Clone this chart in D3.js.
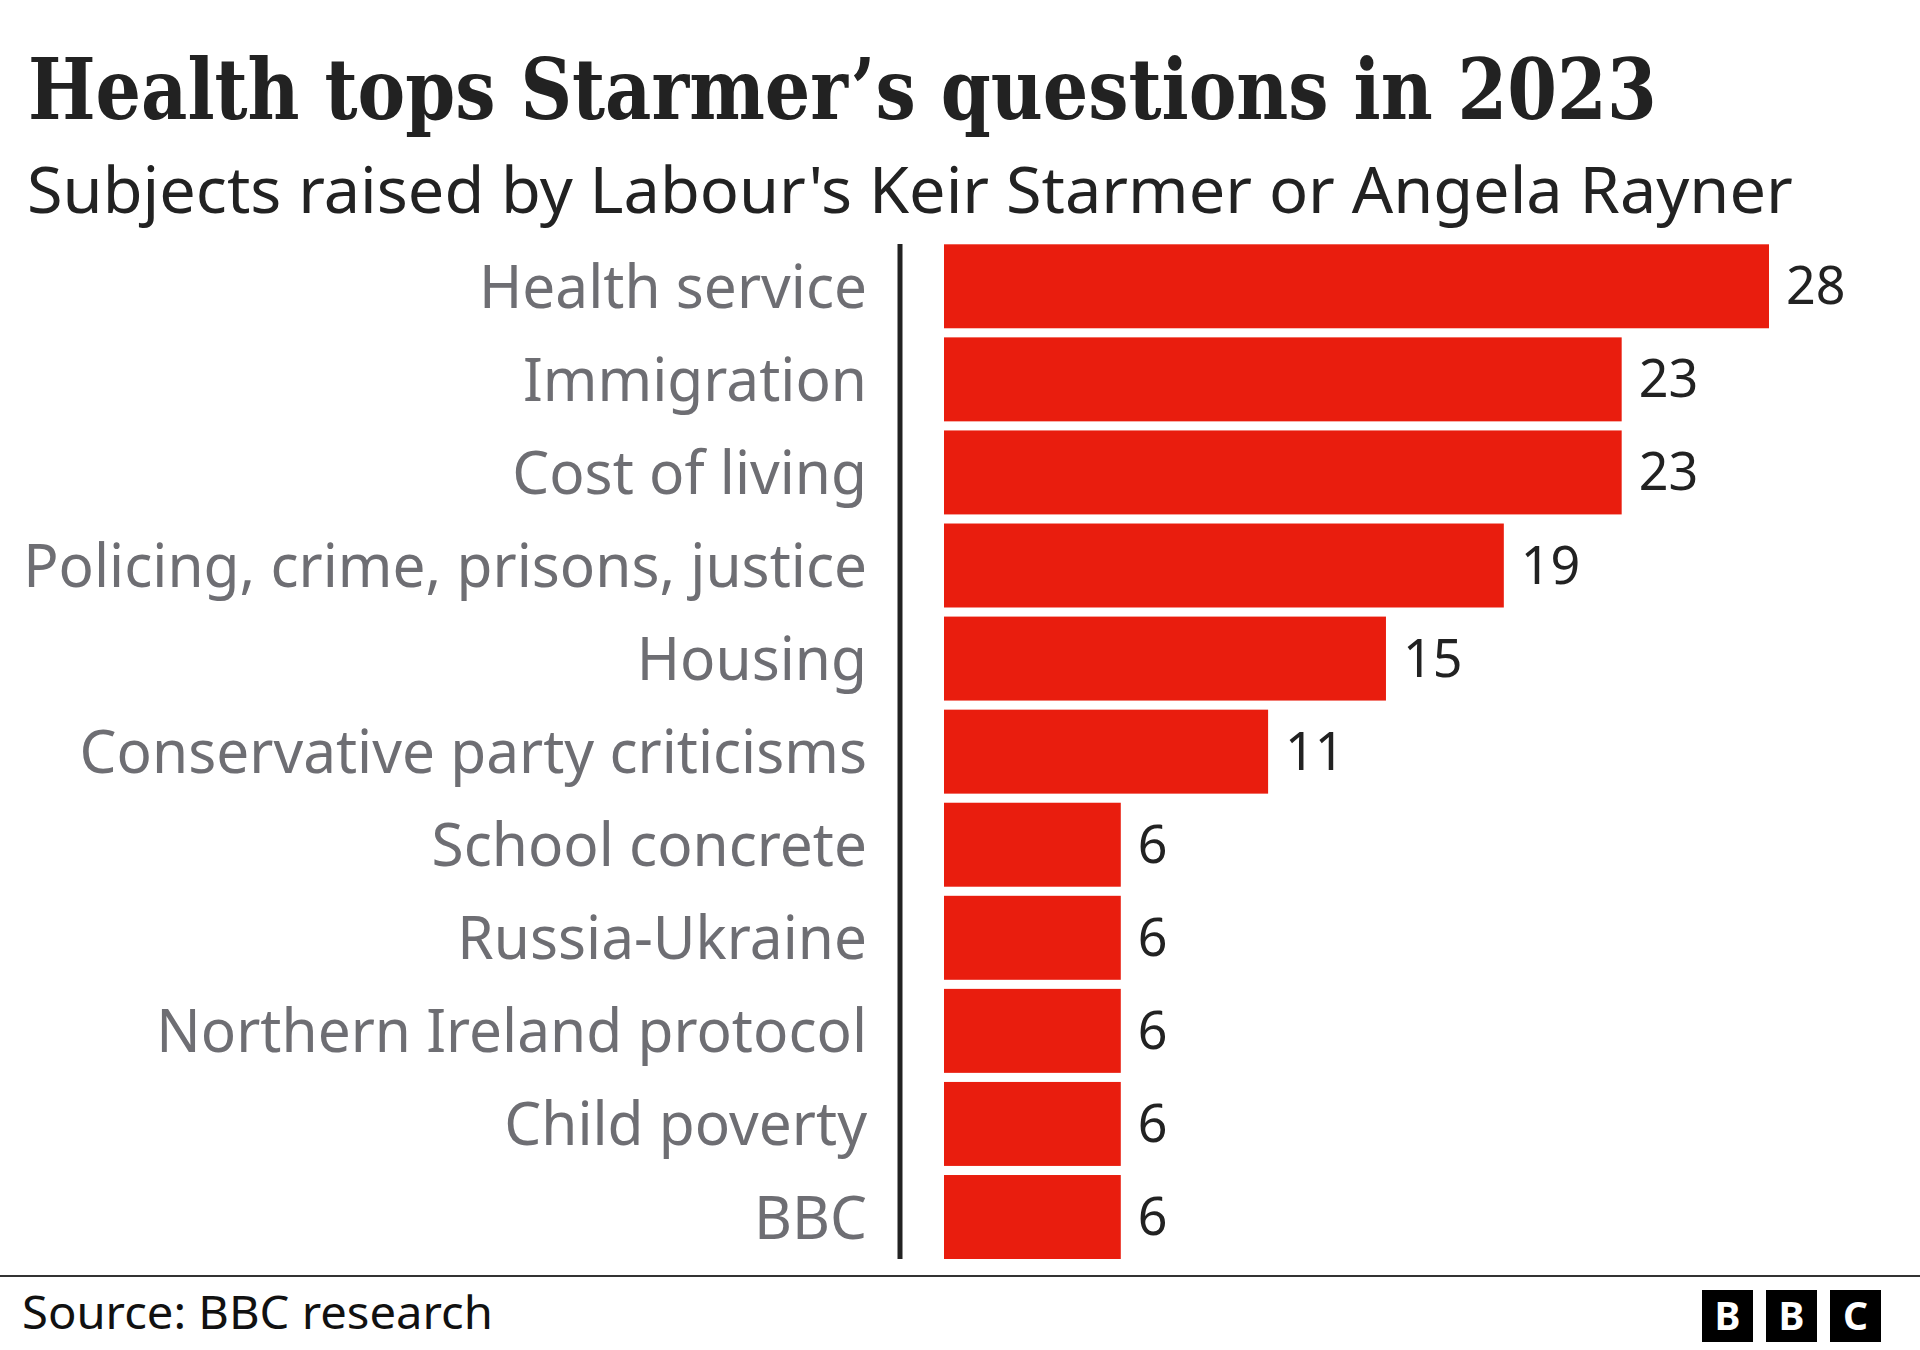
<!DOCTYPE html>
<html><head><meta charset="utf-8">
<script src="https://cdn.jsdelivr.net/npm/d3@7"></script>
<style>html,body{margin:0;padding:0;background:#fff;}</style>
</head><body>
<svg id="c" width="1920" height="1350"></svg>
<script>
const categories = ["Health service","Immigration","Cost of living","Policing, crime, prisons, justice","Housing","Conservative party criticisms","School concrete","Russia-Ukraine","Northern Ireland protocol","Child poverty","BBC"];
const values = [28,23,23,19,15,11,6,6,6,6,6];
const titleText = "Health tops Starmer\u2019s questions in 2023";
const subtitleText = "Subjects raised by Labour's Keir Starmer or Angela Rayner";
const sourceText = "Source: BBC research";
const logoLetters = ["B","B","C"];

const svg = d3.select("#c");
const W = 1920;

// fit text horizontally to a target width, keeping font size (cap height)
function fitX(sel, x, y, target) {
  const w = sel.node().getComputedTextLength();
  const s = target / w;
  sel.attr("x", 0).attr("y", 0).attr("transform", `translate(${x},${y}) scale(${s},1)`);
  return s;
}

const title = svg.append("text").text(titleText)
  .attr("font-family", "DejaVu Serif").attr("font-weight", "bold").attr("font-size", 84).attr("fill", "#222");
fitX(title, 28, 119, 1629);

const sub = svg.append("text").text(subtitleText)
  .attr("font-family", "Noto Sans").attr("font-size", 64).attr("fill", "#222");
fitX(sub, 27, 213, 1766);

const x = d3.scaleLinear().domain([0, 28]).range([944, 1769]);
const y = d3.scaleBand().domain(categories).range([244.3, 1259]).paddingInner(0.0977).paddingOuter(0).align(0);

svg.append("g").selectAll("rect").data(categories).join("rect")
  .attr("x", x(0)).attr("y", d => y(d)).attr("height", y.bandwidth())
  .attr("width", (d, i) => x(values[i]) - x(0)).attr("fill", "#e91d0e");

// category labels
const labels = svg.append("g").selectAll("text").data(categories).join("text")
  .text(d => d).attr("font-family", "Noto Sans").attr("font-size", 60).attr("fill", "#6e6e73")
  .attr("text-anchor", "end");
let maxW = 0;
labels.each(function () { maxW = Math.max(maxW, this.getComputedTextLength()); });
const ls = 844 / maxW;
labels.attr("x", 0).attr("y", 0)
  .attr("transform", d => `translate(867,${y(d) + y.bandwidth() / 2 + 21.5}) scale(${ls},1)`);

// value labels
svg.append("g").selectAll("text").data(categories).join("text")
  .text((d, i) => values[i]).attr("font-family", "Noto Sans").attr("font-size", 52).attr("fill", "#222")
  .attr("x", (d, i) => x(values[i]) + 17).attr("y", d => y(d) + y.bandwidth() / 2 + 18);

// axis line
svg.append("line").attr("x1", 900).attr("x2", 900).attr("y1", 244).attr("y2", 1259)
  .attr("stroke", "#222").attr("stroke-width", 5);

// footer
svg.append("line").attr("x1", 0).attr("x2", W).attr("y1", 1276).attr("y2", 1276)
  .attr("stroke", "#333").attr("stroke-width", 2);
const src = svg.append("text").text(sourceText).attr("font-family", "Noto Sans").attr("font-size", 45).attr("fill", "#111");
fitX(src, 22, 1329, 471);

const logo = svg.append("g");
logoLetters.forEach((L, i) => {
  const lx = 1702 + i * 64;
  logo.append("rect").attr("x", lx).attr("y", 1290).attr("width", 51).attr("height", 52).attr("fill", "#000");
  logo.append("text").text(L).attr("x", lx + 25.5).attr("y", 1330).attr("text-anchor", "middle")
    .attr("font-family", "Noto Sans").attr("font-weight", "bold").attr("font-size", 39).attr("fill", "#fff");
});
</script>
</body></html>
